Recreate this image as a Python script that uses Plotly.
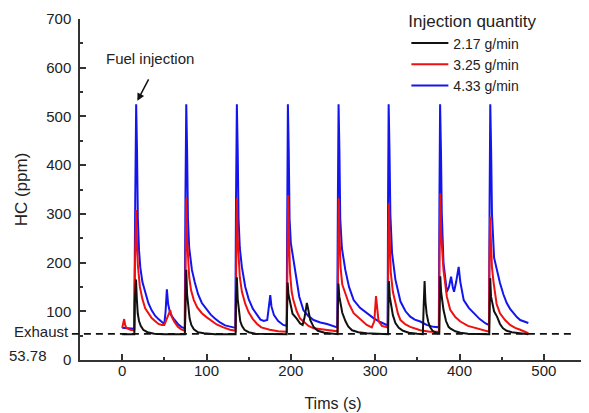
import plotly.graph_objects as go

# HC concentration: (time s, HC ppm)
black_pts = [(0, 53), (14.4, 53), (15, 120), (16.4, 165), (17.4, 125), (18.5, 95), (20, 80), (22, 70), (25, 62),
             (30, 57), (38, 54), (50, 53), (74.3, 53),
             (75, 130), (76, 185), (77, 135), (78.5, 103), (80, 85), (82, 72), (85, 63), (90, 57), (97, 55),
             (110, 53), (134.5, 53),
             (135, 125), (136, 170), (137, 125), (138.5, 95), (140, 80), (142, 70), (145, 62), (150, 57),
             (158, 54), (195, 53),
             (195.4, 120), (196.2, 159), (197.2, 135), (199, 120), (202, 95), (207, 85), (211, 75), (214, 72),
             (216, 85), (218, 105), (219, 117), (220.5, 105), (223, 82), (227, 68), (232, 60), (240, 56),
             (250, 54), (255.3, 53),
             (255.8, 110), (256.4, 157), (257.5, 130), (258.6, 117), (261, 97), (264.7, 80), (268, 69),
             (272.6, 61), (280, 57), (290, 55), (300, 54), (315.3, 53),
             (315.8, 115), (316.3, 162), (317.3, 130), (318.5, 115), (321, 92), (324, 76), (328, 66), (333, 60),
             (340, 56), (350, 54), (356.5, 53), (357.5, 110), (358.6, 162), (359.6, 120), (361, 95), (363, 78),
             (365, 68), (368, 60), (372, 56), (376, 54),
             (376.5, 120), (377.2, 172), (378.2, 140), (379.5, 120), (381, 103), (384, 80), (387, 68),
             (389, 65), (395, 59), (401, 56), (410, 54), (435.3, 53),
             (435.8, 120), (436.4, 168), (437.4, 130), (438.5, 120), (441, 100), (444.5, 89), (448, 74),
             (451.6, 65), (456, 60), (462, 57), (470, 55), (481.6, 53)]

red_pts = [(0, 66), (1.2, 75), (2.4, 84), (3.5, 72), (5, 66), (9.5, 62), (14.3, 61),
           (15.2, 200), (16.6, 308), (17.6, 240), (18.6, 195), (21, 150), (24, 125), (27.3, 106), (31, 96),
           (35, 86), (39, 80), (43, 74), (47, 72), (50, 72), (53, 85), (55, 92), (57, 102), (59, 88), (62, 78),
           (66, 68), (70, 63), (74.5, 60),
           (75.2, 200), (76, 332), (77, 250), (78, 200), (79.5, 170), (81.7, 143), (85, 123), (89, 108),
           (94.5, 96), (100, 88), (106, 80), (112, 73), (120, 67), (128, 62), (134.5, 60),
           (135.2, 200), (136, 332), (137, 250), (138, 200), (139.5, 170), (142, 140), (146, 115), (150, 98),
           (155, 84), (160, 74), (165, 67), (175, 62), (185, 59), (195.2, 58),
           (196, 200), (196.8, 338), (197.8, 260), (199, 180), (201, 140), (203, 123), (207, 100), (211, 85),
           (215, 79), (221, 70), (227, 65), (235, 63), (243, 62), (250, 60), (255.5, 59),
           (256, 200), (256.8, 332), (257.8, 250), (259, 190), (261, 155), (264.6, 137), (269, 115),
           (274.5, 96), (282, 84), (290, 72), (296, 67), (299, 80), (301, 131), (302.5, 100), (304, 80),
           (308, 70), (315, 67),
           (315.5, 200), (316.3, 322), (317.3, 250), (318.5, 180), (321, 140), (324, 115), (327, 95),
           (330, 82), (336, 73), (341.6, 68), (353.5, 61), (365, 58), (375.8, 58),
           (376.3, 200), (377.2, 342), (378.2, 260), (379.5, 220), (381, 185), (385, 130), (389, 103),
           (395, 88), (401, 79), (410, 70), (420, 65), (428, 60), (435, 58),
           (435.5, 200), (436.3, 294), (437.3, 240), (438.5, 190), (440.5, 158), (444, 115), (448, 96),
           (454, 82), (460, 72), (466, 66), (472, 62), (477, 58), (481.6, 55)]

blue_pts = [(0, 66), (5, 65), (10, 64), (14.3, 64),
            (15.5, 330), (16.6, 525), (17.6, 430), (18.6, 290), (20, 225), (21.5, 190), (24, 160),
            (27.3, 137), (31, 117), (35, 102), (39, 91), (43, 84), (47, 78), (50, 74), (51.5, 100), (53, 145),
            (54.5, 115), (57, 95), (61, 85), (66, 74), (70, 68), (74.2, 65),
            (75, 330), (76, 525), (77, 430), (78, 290), (79.5, 230), (82.7, 185), (86, 160), (90, 135),
            (94.5, 117), (100, 103), (105, 93), (110, 85), (116, 77), (122, 71), (128, 68), (134.2, 66),
            (135, 330), (136, 525), (137, 430), (138, 290), (139.5, 230), (142, 190), (146, 150), (150, 125),
            (155, 105), (160, 92), (164, 83), (168, 80), (172, 82), (174, 110), (175.6, 133), (177, 110),
            (180, 92), (185, 80), (191, 72), (195, 70),
            (195.7, 330), (196.5, 525), (197.5, 430), (198.5, 290), (200, 240), (203, 205), (206, 170),
            (210, 130), (215, 102), (221, 90), (227, 82), (235, 77), (243, 74), (250, 69), (255, 67),
            (255.8, 330), (256.6, 525), (257.6, 430), (258.6, 290), (260.5, 230), (264.6, 185), (269, 150),
            (274.5, 123), (282, 107), (290, 96), (298, 86), (306, 78), (314.8, 71),
            (315.3, 330), (316, 525), (317, 430), (318, 300), (320, 220), (324, 165), (330, 120), (336, 100),
            (341.6, 89), (347, 83), (353.5, 79), (361, 72), (369, 68), (375.5, 67),
            (376.2, 330), (377, 525), (378, 430), (379, 300), (381, 200), (383, 164), (385, 140),
            (387.5, 150), (390, 171), (392, 150), (393.5, 140), (396, 160), (399, 191), (401, 160),
            (405, 123), (411, 107), (417, 96), (424, 84), (431, 75), (435, 72),
            (435.7, 330), (436.5, 525), (437.5, 430), (438.5, 300), (441, 210), (444, 185), (448, 158),
            (452, 135), (456, 117), (460, 105), (464, 96), (468, 88), (472, 82), (477, 79), (481.6, 76)]

series_names = ["2.17 g/min", "3.25 g/min", "4.33 g/min"]
series_colors = ["#111111", "#ee1111", "#1414ee"]
EXHAUST = 53.78

FONT = "Liberation Sans, Arial, sans-serif"

fig = go.Figure()

# blue drawn first so black sits on top; legend reversed to list black first
for pts, name, color in reversed(list(zip([black_pts, red_pts, blue_pts], series_names, series_colors))):
    t = [p[0] for p in pts]
    hc = [p[1] for p in pts]
    fig.add_trace(go.Scatter(x=t, y=hc, mode="lines", name=name,
                             line=dict(color=color, width=2)))

# exhaust baseline
fig.add_shape(type="line", xref="paper", yref="y", x0=-0.016, x1=0.978, y0=EXHAUST, y1=EXHAUST,
              line=dict(color="#111111", width=1.8, dash="7px,5px"))

fig.add_annotation(xref="paper", yref="y", x=-0.018, y=EXHAUST + 4, text="Exhaust", showarrow=False,
                   xanchor="right", yanchor="middle", font=dict(size=15, color="#222"))
fig.add_annotation(xref="paper", yref="y", x=-0.061, y=EXHAUST - 44, text="53.78", showarrow=False,
                   xanchor="right", yanchor="middle", font=dict(size=15, color="#222"))

# Fuel injection label + arrow
fig.add_annotation(x=33, y=619, text="Fuel injection", showarrow=False, xanchor="center",
                   yanchor="middle", font=dict(size=15, color="#222"))
fig.add_annotation(x=18, y=532, ax=12, ay=-23, text="", showarrow=True, arrowhead=2, arrowsize=1,
                   arrowwidth=1.5, arrowcolor="#111")

# page body has an 8px offset, margins compensate for it
fig.update_layout(
    width=589, height=413,
    margin=dict(l=72, r=11, t=11, b=61, autoexpand=False),
    plot_bgcolor="white", paper_bgcolor="white",
    font=dict(family=FONT, size=15, color="#222"),
    showlegend=True,
    legend=dict(x=0.645, y=1.04, xanchor="left", yanchor="top", traceorder="reversed",
                bgcolor="rgba(0,0,0,0)", font=dict(size=14), itemwidth=37,
                title=dict(text="Injection quantity", font=dict(size=17))),
)
fig.update_xaxes(range=[-50, 550], tickvals=[0, 100, 200, 300, 400, 500], showgrid=False, zeroline=False,
                 showline=True, linecolor="#333", linewidth=1.5, ticks="inside", ticklen=6,
                 tickcolor="#333", tickwidth=1.5, ticklabelstandoff=-4,
                 minor=dict(dtick=50, ticks="inside", ticklen=3, tickcolor="#333", tickwidth=1.5),
                 title=dict(text="Tims (s)", standoff=20, font=dict(size=16)))
fig.update_yaxes(range=[0, 700], dtick=100, showgrid=False, zeroline=False,
                 showline=True, linecolor="#333", linewidth=1.5, ticks="inside", ticklen=6,
                 tickcolor="#333", tickwidth=1.5, ticklabelstandoff=4,
                 minor=dict(dtick=50, ticks="inside", ticklen=3, tickcolor="#333", tickwidth=1.5),
                 title=dict(text="HC (ppm)", standoff=14, font=dict(size=17)))

fig.write_html("out.html")
